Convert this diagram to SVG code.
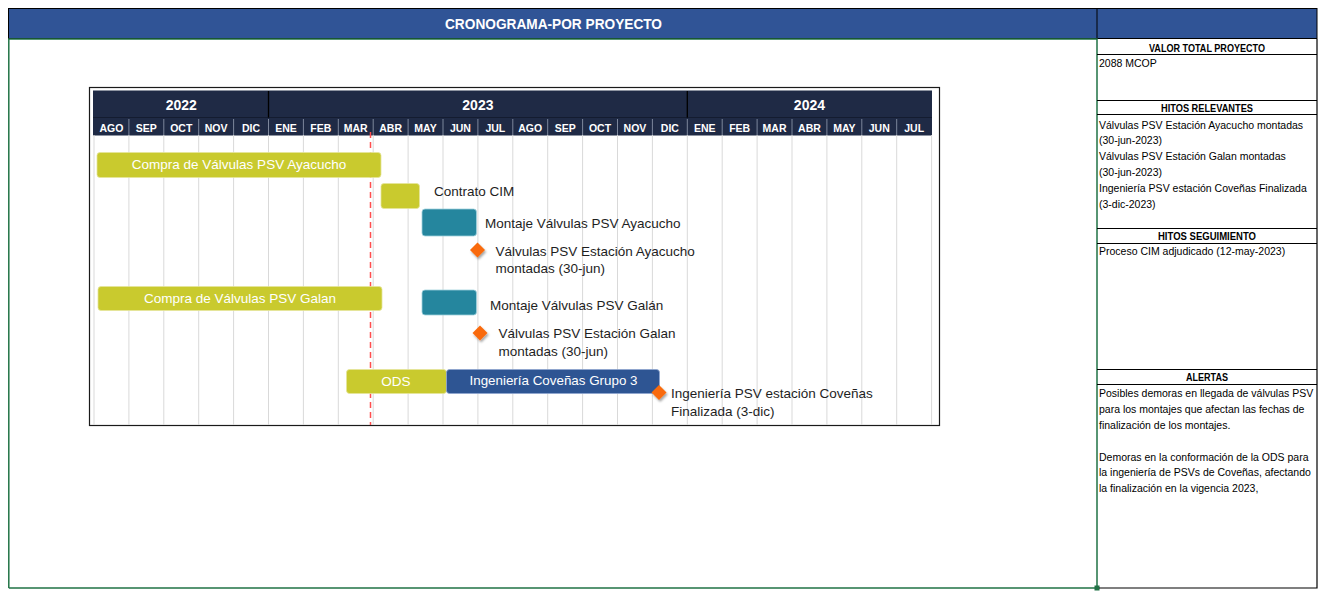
<svg xmlns="http://www.w3.org/2000/svg" width="1326" height="600" viewBox="0 0 1326 600">
<defs>
<style>
.ttl{font-family:"Liberation Sans",Arial,sans-serif;font-weight:bold;fill:#fff}
.yr{font-family:"Liberation Sans",Arial,sans-serif;font-weight:bold;font-size:14px;fill:#fff;text-anchor:middle}
.mo{font-family:"Liberation Sans",Arial,sans-serif;font-weight:bold;font-size:10.5px;fill:#fff;text-anchor:middle}
.lbl{font-family:"Liberation Sans",Arial,sans-serif;font-size:13.5px;fill:#1e1e1e}
.bt{font-family:"Liberation Sans",Arial,sans-serif;font-size:13.5px;fill:#fff;text-anchor:middle}
.ph{font-family:"Liberation Sans",Arial,sans-serif;font-weight:bold;font-size:10px;fill:#000;text-anchor:middle}
.pt{font-family:"Liberation Sans",Arial,sans-serif;font-size:10.5px;fill:#000}
.grid{stroke:#d9d9d9;stroke-width:1}
.msep{stroke:#7d879c;stroke-width:1}
.yg{fill:#c9ca2e;stroke:#e4e59a;stroke-width:0.8}
.tl{fill:#25869e;stroke:#9fd0dc;stroke-width:0.8}
.bl{fill:#2e5593;stroke:#8ea6cf;stroke-width:0.8}
.dm{fill:#f96a0b}
.pl{stroke:#000;stroke-width:1}
</style>
<filter id="sh" x="-50%" y="-50%" width="200%" height="200%">
<feDropShadow dx="1.2" dy="2" stdDeviation="1.2" flood-color="#000" flood-opacity="0.35"/>
</filter>
</defs>
<rect width="1326" height="600" fill="#fff"/>

<!-- title bar -->
<g id="title">
<rect x="8.5" y="8.5" width="1308.5" height="30" fill="#305496" stroke="#000" stroke-width="1"/>
<line x1="1097" y1="8.5" x2="1097" y2="38.5" stroke="#000" stroke-width="1"/>
<text class="ttl" x="553.5" y="29" font-size="14.5" text-anchor="middle" textLength="217" lengthAdjust="spacingAndGlyphs">CRONOGRAMA-POR PROYECTO</text>
</g>

<!-- main area border -->
<g id="main-frame">
<path d="M8.8 588 V39 H1097 V588 H8.8" fill="none" stroke="#217346" stroke-width="1.5"/>
<rect x="1094.5" y="585.5" width="5" height="5" fill="#217346"/>
</g>

<!-- right panel -->
<g id="panel">
<path d="M1099 588 H1317 V39" fill="none" stroke="#000" stroke-width="1.2"/>
<line class="pl" x1="1097" y1="54.5" x2="1317" y2="54.5"/>
<line class="pl" x1="1097" y1="100.5" x2="1317" y2="100.5"/>
<line class="pl" x1="1097" y1="114.5" x2="1317" y2="114.5"/>
<line class="pl" x1="1097" y1="228.5" x2="1317" y2="228.5"/>
<line class="pl" x1="1097" y1="243.5" x2="1317" y2="243.5"/>
<line class="pl" x1="1097" y1="369.5" x2="1317" y2="369.5"/>
<line class="pl" x1="1097" y1="384.5" x2="1317" y2="384.5"/>
<text class="ph" x="1207" y="51.5" textLength="116" lengthAdjust="spacingAndGlyphs">VALOR TOTAL PROYECTO</text>
<text class="pt" x="1099" y="67">2088 MCOP</text>
<text class="ph" x="1207" y="111.5" textLength="92" lengthAdjust="spacingAndGlyphs">HITOS RELEVANTES</text>
<text class="pt" x="1099" y="128.5">Válvulas PSV Estación Ayacucho montadas</text>
<text class="pt" x="1099" y="144.3">(30-jun-2023)</text>
<text class="pt" x="1099" y="160.1">Válvulas PSV Estación Galan montadas</text>
<text class="pt" x="1099" y="175.9">(30-jun-2023)</text>
<text class="pt" x="1099" y="191.7">Ingeniería PSV estación Coveñas Finalizada</text>
<text class="pt" x="1099" y="207.5">(3-dic-2023)</text>
<text class="ph" x="1207" y="240" textLength="98" lengthAdjust="spacingAndGlyphs">HITOS SEGUIMIENTO</text>
<text class="pt" x="1099" y="255">Proceso CIM adjudicado (12-may-2023)</text>
<text class="ph" x="1207" y="380.5" textLength="42" lengthAdjust="spacingAndGlyphs">ALERTAS</text>
<text class="pt" x="1099" y="397">Posibles demoras en llegada de válvulas PSV</text>
<text class="pt" x="1099" y="412.8">para los montajes que afectan las fechas de</text>
<text class="pt" x="1099" y="428.6">finalización de los montajes.</text>
<text class="pt" x="1099" y="460.8">Demoras en la conformación de la ODS para</text>
<text class="pt" x="1099" y="476.4">la ingeniería de PSVs de Coveñas, afectando</text>
<text class="pt" x="1099" y="492">la finalización en la vigencia 2023,</text>
</g>

<!-- gantt chart frame and header -->
<g id="gantt-header">
<rect x="89.5" y="87.5" width="850" height="338" fill="#fff" stroke="#1a1a1a" stroke-width="1.2"/>
<rect x="93" y="90.5" width="839" height="45" fill="#1f2a45"/>
<line x1="93" y1="117.5" x2="932" y2="117.5" stroke="#141c30" stroke-width="1"/>
<line x1="268.5" y1="91" x2="268.5" y2="117.5" stroke="#000" stroke-width="1.3"/>
<line x1="687.3" y1="91" x2="687.3" y2="117.5" stroke="#000" stroke-width="1.3"/>
<text class="yr" x="181.25" y="110">2022</text>
<text class="yr" x="477.9" y="110">2023</text>
<text class="yr" x="809.45" y="110">2024</text>
<g class="msep">
<line x1="128.9" y1="119" x2="128.9" y2="135"/><line x1="163.8" y1="119" x2="163.8" y2="135"/><line x1="198.7" y1="119" x2="198.7" y2="135"/><line x1="233.6" y1="119" x2="233.6" y2="135"/><line x1="268.5" y1="119" x2="268.5" y2="135"/><line x1="303.4" y1="119" x2="303.4" y2="135"/><line x1="338.3" y1="119" x2="338.3" y2="135"/><line x1="373.2" y1="119" x2="373.2" y2="135"/><line x1="408.1" y1="119" x2="408.1" y2="135"/><line x1="443" y1="119" x2="443" y2="135"/><line x1="477.9" y1="119" x2="477.9" y2="135"/><line x1="512.8" y1="119" x2="512.8" y2="135"/><line x1="547.7" y1="119" x2="547.7" y2="135"/><line x1="582.6" y1="119" x2="582.6" y2="135"/><line x1="617.5" y1="119" x2="617.5" y2="135"/><line x1="652.4" y1="119" x2="652.4" y2="135"/><line x1="687.3" y1="119" x2="687.3" y2="135"/><line x1="722.2" y1="119" x2="722.2" y2="135"/><line x1="757.1" y1="119" x2="757.1" y2="135"/><line x1="792" y1="119" x2="792" y2="135"/><line x1="826.9" y1="119" x2="826.9" y2="135"/><line x1="861.8" y1="119" x2="861.8" y2="135"/><line x1="896.7" y1="119" x2="896.7" y2="135"/>
</g>
<text class="mo" x="111.45" y="131.5">AGO</text><text class="mo" x="146.35" y="131.5">SEP</text><text class="mo" x="181.25" y="131.5">OCT</text><text class="mo" x="216.15" y="131.5">NOV</text><text class="mo" x="251.05" y="131.5">DIC</text><text class="mo" x="285.95" y="131.5">ENE</text><text class="mo" x="320.85" y="131.5">FEB</text><text class="mo" x="355.75" y="131.5">MAR</text><text class="mo" x="390.65" y="131.5">ABR</text><text class="mo" x="425.55" y="131.5">MAY</text><text class="mo" x="460.45" y="131.5">JUN</text><text class="mo" x="495.35" y="131.5">JUL</text><text class="mo" x="530.25" y="131.5">AGO</text><text class="mo" x="565.15" y="131.5">SEP</text><text class="mo" x="600.05" y="131.5">OCT</text><text class="mo" x="634.95" y="131.5">NOV</text><text class="mo" x="669.85" y="131.5">DIC</text><text class="mo" x="704.75" y="131.5">ENE</text><text class="mo" x="739.65" y="131.5">FEB</text><text class="mo" x="774.55" y="131.5">MAR</text><text class="mo" x="809.45" y="131.5">ABR</text><text class="mo" x="844.35" y="131.5">MAY</text><text class="mo" x="879.25" y="131.5">JUN</text><text class="mo" x="914.15" y="131.5">JUL</text>
</g>

<!-- grid lines -->
<g id="grid" class="grid">
<line x1="94" y1="135" x2="94" y2="425"/><line x1="128.9" y1="135" x2="128.9" y2="425"/><line x1="163.8" y1="135" x2="163.8" y2="425"/><line x1="198.7" y1="135" x2="198.7" y2="425"/><line x1="233.6" y1="135" x2="233.6" y2="425"/><line x1="268.5" y1="135" x2="268.5" y2="425"/><line x1="303.4" y1="135" x2="303.4" y2="425"/><line x1="338.3" y1="135" x2="338.3" y2="425"/><line x1="373.2" y1="135" x2="373.2" y2="425"/><line x1="408.1" y1="135" x2="408.1" y2="425"/><line x1="443" y1="135" x2="443" y2="425"/><line x1="477.9" y1="135" x2="477.9" y2="425"/><line x1="512.8" y1="135" x2="512.8" y2="425"/><line x1="547.7" y1="135" x2="547.7" y2="425"/><line x1="582.6" y1="135" x2="582.6" y2="425"/><line x1="617.5" y1="135" x2="617.5" y2="425"/><line x1="652.4" y1="135" x2="652.4" y2="425"/><line x1="687.3" y1="135" x2="687.3" y2="425"/><line x1="722.2" y1="135" x2="722.2" y2="425"/><line x1="757.1" y1="135" x2="757.1" y2="425"/><line x1="792" y1="135" x2="792" y2="425"/><line x1="826.9" y1="135" x2="826.9" y2="425"/><line x1="861.8" y1="135" x2="861.8" y2="425"/><line x1="896.7" y1="135" x2="896.7" y2="425"/><line x1="931.6" y1="135" x2="931.6" y2="425"/>
</g>

<!-- connectors / markers -->
<g id="connectors">
<line x1="370.5" y1="132" x2="370.5" y2="425" stroke="#ff4f4f" stroke-width="1.5" stroke-dasharray="6 4"/>
</g>

<g id="compra-ayacucho">
<rect class="yg" x="97" y="152.5" width="284" height="25" rx="3"/>
<text class="bt" x="239" y="169">Compra de Válvulas PSV Ayacucho</text>
</g>
<g id="contrato-cim">
<rect class="yg" x="381" y="183.5" width="38.5" height="25" rx="3"/>
<text class="lbl" x="434" y="196">Contrato CIM</text>
</g>
<g id="montaje-ayacucho">
<rect class="tl" x="422" y="209" width="54.5" height="27" rx="3"/>
<text class="lbl" x="485" y="227.5">Montaje Válvulas PSV Ayacucho</text>
</g>
<g id="hito-ayacucho">
<polygon class="dm" filter="url(#sh)" points="477.5,242.5 485,250 477.5,257.5 470,250"/>
<text class="lbl" x="495.5" y="255.5">Válvulas PSV Estación Ayacucho</text>
<text class="lbl" x="495.5" y="273">montadas (30-jun)</text>
</g>
<g id="compra-galan">
<rect class="yg" x="98" y="286.5" width="284" height="24" rx="3"/>
<text class="bt" x="240" y="302.5">Compra de Válvulas PSV Galan</text>
</g>
<g id="montaje-galan">
<rect class="tl" x="422" y="290" width="54.5" height="25" rx="3"/>
<text class="lbl" x="490" y="310">Montaje Válvulas PSV Galán</text>
</g>
<g id="hito-galan">
<polygon class="dm" filter="url(#sh)" points="480,325.5 487.5,333 480,340.5 472.5,333"/>
<text class="lbl" x="498.5" y="338">Válvulas PSV Estación Galan</text>
<text class="lbl" x="498.5" y="355.5">montadas (30-jun)</text>
</g>
<g id="ods">
<rect class="yg" x="346.5" y="369.5" width="100" height="24" rx="3"/>
<text class="bt" x="396" y="386">ODS</text>
</g>
<g id="ingenieria-covenas">
<rect class="bl" x="446.5" y="369.5" width="213" height="24" rx="3"/>
<text class="bt" x="553.5" y="385" font-size="12" textLength="168" lengthAdjust="spacingAndGlyphs">Ingeniería Coveñas Grupo 3</text>
</g>
<g id="hito-covenas">
<polygon class="dm" filter="url(#sh)" points="659,385 666.5,392.5 659,400 651.5,392.5"/>
<text class="lbl" x="671" y="398">Ingeniería PSV estación Coveñas</text>
<text class="lbl" x="671" y="415.5">Finalizada (3-dic)</text>
</g>
</svg>
